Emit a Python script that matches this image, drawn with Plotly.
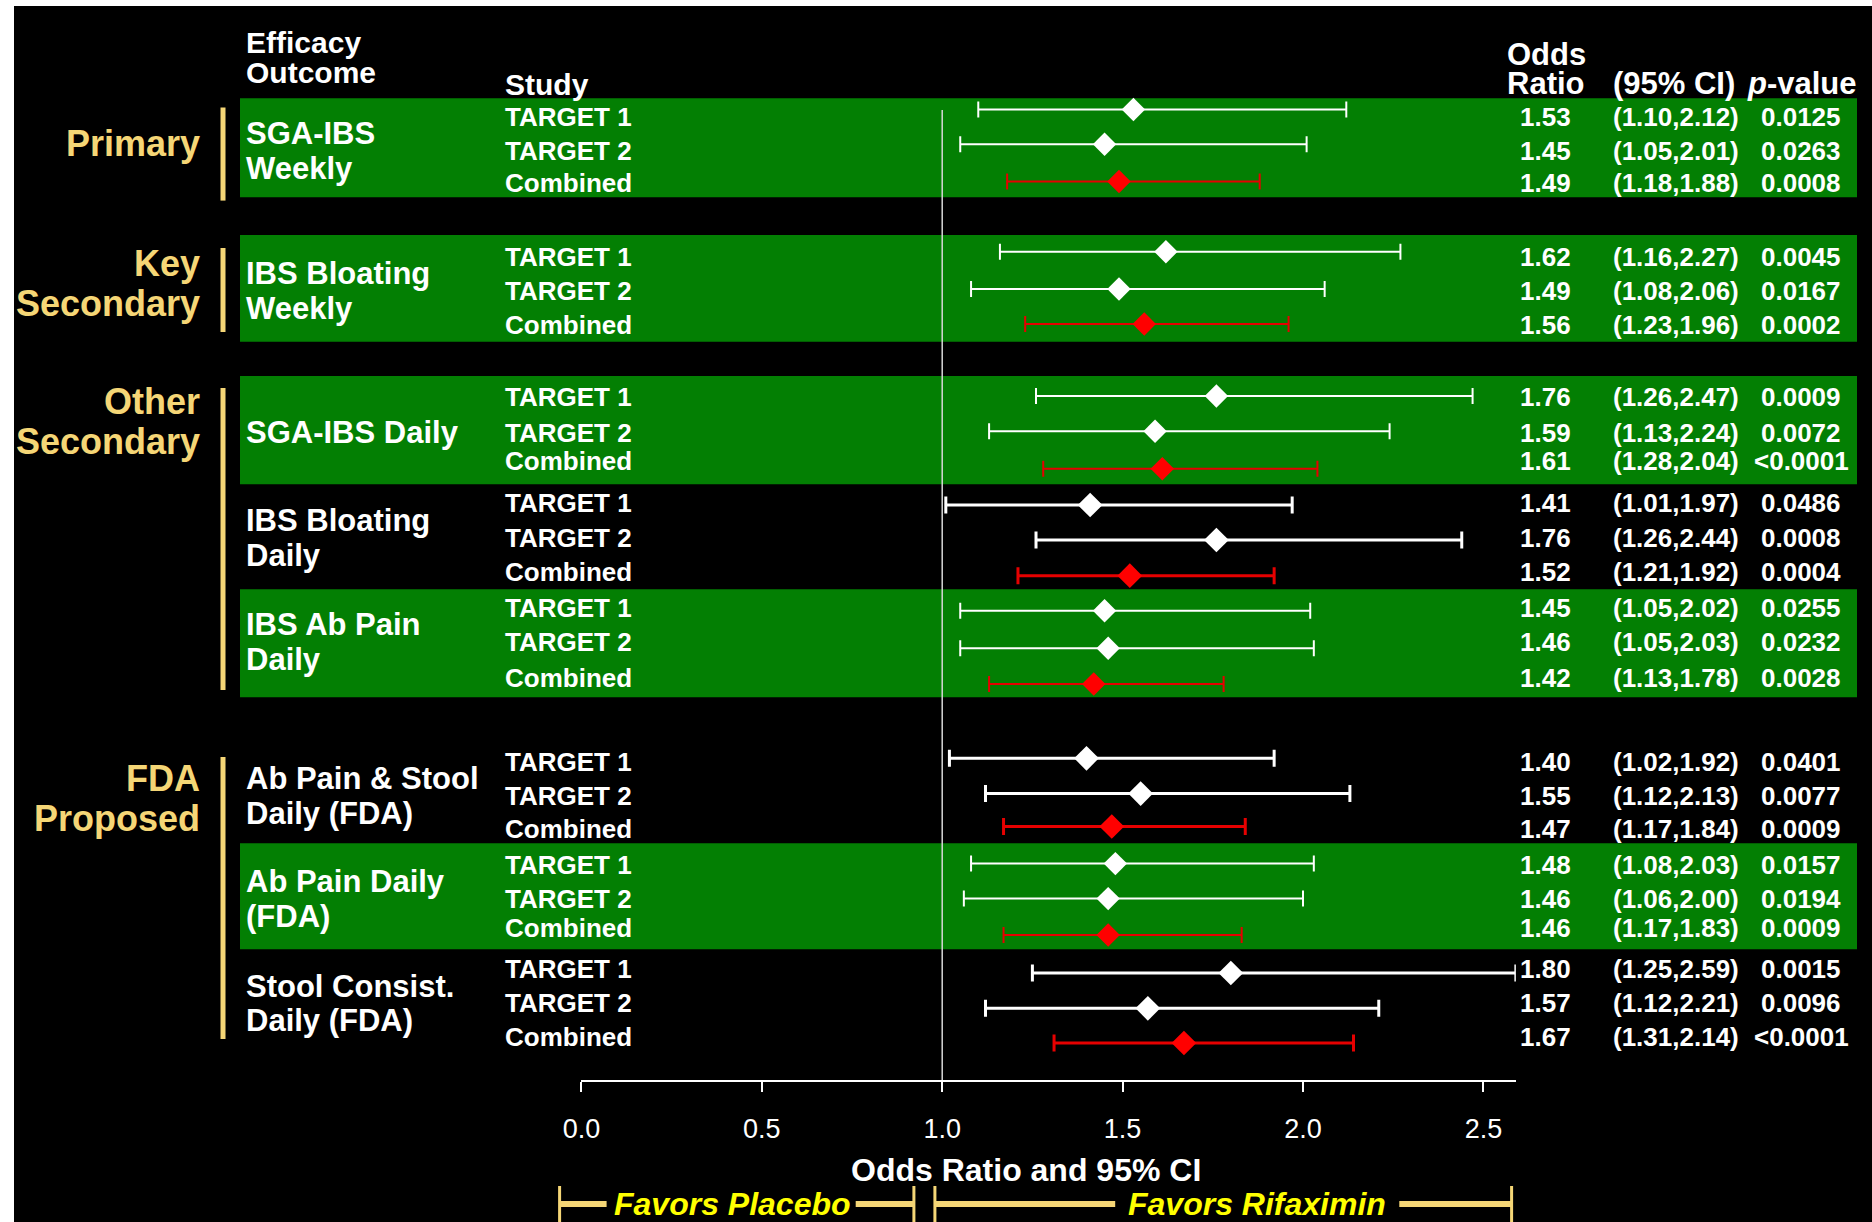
import plotly.graph_objects as go

W, H = 1872, 1222
FONT = "Liberation Sans, Arial, sans-serif"

# ---------------- data ----------------
categories = ["Primary", "Key|Secondary", "Other|Secondary", "FDA|Proposed"]
category_groups = [[0], [1], [2, 3, 4], [5, 6, 7]]

outcomes = [
    "SGA-IBS|Weekly",
    "IBS Bloating|Weekly",
    "SGA-IBS Daily",
    "IBS Bloating|Daily",
    "IBS Ab Pain|Daily",
    "Ab Pain & Stool|Daily (FDA)",
    "Ab Pain Daily|(FDA)",
    "Stool Consist.|Daily (FDA)",
]
studies = ["TARGET 1", "TARGET 2", "Combined"]

odds_ratio = [
    [1.53, 1.45, 1.49],
    [1.62, 1.49, 1.56],
    [1.76, 1.59, 1.61],
    [1.41, 1.76, 1.52],
    [1.45, 1.46, 1.42],
    [1.40, 1.55, 1.47],
    [1.48, 1.46, 1.46],
    [1.80, 1.57, 1.67],
]
ci_lower = [
    [1.10, 1.05, 1.18],
    [1.16, 1.08, 1.23],
    [1.26, 1.13, 1.28],
    [1.01, 1.26, 1.21],
    [1.05, 1.05, 1.13],
    [1.02, 1.12, 1.17],
    [1.08, 1.06, 1.17],
    [1.25, 1.12, 1.31],
]
ci_upper = [
    [2.12, 2.01, 1.88],
    [2.27, 2.06, 1.96],
    [2.47, 2.24, 2.04],
    [1.97, 2.44, 1.92],
    [2.02, 2.03, 1.78],
    [1.92, 2.13, 1.84],
    [2.03, 2.00, 1.83],
    [2.59, 2.21, 2.14],
]
p_values = [
    ["0.0125", "0.0263", "0.0008"],
    ["0.0045", "0.0167", "0.0002"],
    ["0.0009", "0.0072", "<0.0001"],
    ["0.0486", "0.0008", "0.0004"],
    ["0.0255", "0.0232", "0.0028"],
    ["0.0401", "0.0077", "0.0009"],
    ["0.0157", "0.0194", "0.0009"],
    ["0.0015", "0.0096", "<0.0001"],
]
axis_ticks = [0.0, 0.5, 1.0, 1.5, 2.0, 2.5]
reference_or = 1.0

# ---------------- layout (pixel positions) ----------------
# text baselines of each row
row_y = [
    [116.7, 151.0, 183.3],
    [256.7, 291.0, 325.0],
    [397.3, 432.7, 461.0],
    [502.7, 537.7, 572.3],
    [607.7, 641.7, 677.7],
    [761.7, 796.0, 829.3],
    [865.0, 899.0, 928.3],
    [969.3, 1003.3, 1036.7],
]
# vertical placement of each row's diamond / interval
mark_y = [
    [109.5, 144.3, 181.5],
    [251.7, 289.0, 324.0],
    [396.0, 431.3, 468.7],
    [505.0, 540.0, 575.7],
    [610.7, 648.3, 684.0],
    [758.3, 793.6, 826.5],
    [863.6, 898.6, 935.0],
    [973.0, 1008.3, 1043.0],
]
green_band = [(98.3, 197.3), (235.0, 341.7), (376.0, 484.3), None,
              (589.3, 697.3), None, (843.3, 949.3), None]
band_x = (240, 1857)
cat_bar = [(107.5, 200.6), (248, 332), (388, 690), (757, 1039)]
cat_label_y = [143.5, 283.5, 421.0, 798.0]

X0_PX, X_UNIT_PX = 581.4, 360.8      # pixel of OR=0 and pixels per OR unit
AXIS_Y = 1081

GREEN = "#037f03"
GOLD = "#f5d676"
YELLOW = "#ffff00"
RED = "#ff0000"
RED_LINE = "#e60000"

x_max = max(max(u) for u in ci_upper)
fig = go.Figure()

# background: black slide with white margin at left/top
fig.add_shape(type="rect", xref="paper", yref="y", x0=0, x1=14 / W, y0=0, y1=H,
              fillcolor="white", line_width=0, layer="below")
fig.add_shape(type="rect", xref="paper", yref="y", x0=0, x1=1, y0=0, y1=6,
              fillcolor="white", line_width=0, layer="below")

# green highlight bands
for band in green_band:
    if band is None:
        continue
    fig.add_shape(type="rect", xref="paper", yref="y",
                  x0=band_x[0] / W, x1=band_x[1] / W, y0=band[0], y1=band[1],
                  fillcolor=GREEN, line_width=0, layer="below")

# reference line at OR = 1
fig.add_shape(type="line", xref="x", yref="y", x0=reference_or, x1=reference_or,
              y0=110, y1=AXIS_Y + 10, line=dict(color="#d8d8d8", width=1.5),
              layer="below")

# forest-plot marks, one pair of traces per outcome
for g in range(len(outcomes)):
    on_green = green_band[g] is not None
    lw = 2 if on_green else 3
    msize = 18 if on_green else 19
    cap = 8 if on_green else 8.5
    for k, color, lcolor in [([0, 1], "white", "white"), ([2], RED, RED_LINE)]:
        xs = [odds_ratio[g][i] for i in k]
        ys = [mark_y[g][i] for i in k]
        plus = [round(ci_upper[g][i] - odds_ratio[g][i], 3) for i in k]
        minus = [round(odds_ratio[g][i] - ci_lower[g][i], 3) for i in k]
        fig.add_trace(go.Scatter(
            x=xs, y=ys, mode="markers", showlegend=False, cliponaxis=False,
            marker=dict(symbol="diamond", size=msize, color=color, line_width=0),
            error_x=dict(type="data", symmetric=False, array=plus, arrayminus=minus,
                         color=lcolor, thickness=lw, width=cap),
            hovertemplate="%{x:.2f}<extra></extra>",
        ))


def text(xp, yp, s, size, color="white", anchor="left", weight="bold", italic=False):
    fig.add_annotation(
        x=xp / W, xref="paper", y=yp, yref="y", text=s, showarrow=False,
        xanchor=anchor, yanchor="middle", borderpad=0,
        font=dict(family=FONT, size=size, color=color, weight=weight,
                  style="italic" if italic else "normal"),
    )


# column headers
text(244.8, 42.5, "Efficacy", 30)
text(244.8, 72.5, "Outcome", 30)
text(504.0, 84.0, "Study", 30)
text(1506.0, 54.0, "Odds", 31)
text(1506.0, 83.5, "Ratio", 31)
text(1612.0, 83.5, "(95% CI)", 31)
text(1746.0, 83.5, "<i>p</i>-value", 31)

# category labels with gold side bars
for c, name in enumerate(categories):
    lines = name.split("|")
    n = len(lines)
    for j, ln in enumerate(lines):
        text(201.0, cat_label_y[c] + (j - (n - 1) / 2) * 40, ln, 36, color=GOLD, anchor="right")
    fig.add_shape(type="line", xref="paper", yref="y", x0=223 / W, x1=223 / W,
                  y0=cat_bar[c][0], y1=cat_bar[c][1], line=dict(color=GOLD, width=5))

# outcome labels and row text
for g, name in enumerate(outcomes):
    lines = name.split("|")
    n = len(lines)
    yc = row_y[g][1]
    for j, ln in enumerate(lines):
        text(244.8, yc + (j - (n - 1) / 2) * 34.6, ln, 31)
    for i, st in enumerate(studies):
        y = row_y[g][i]
        text(504.0, y, st, 26)
        text(1571.5, y, f"{odds_ratio[g][i]:.2f}", 26, anchor="right")
        text(1611.5, y, f"({ci_lower[g][i]:.2f},{ci_upper[g][i]:.2f})", 26)
        text(1801.0, y, p_values[g][i], 26, anchor="center")

# axis title
text(1026.0, 1170.0, "Odds Ratio and 95% CI", 32, anchor="center")

# favours brackets: outer ends, bar pieces either side of the label, label centre
brackets = [
    ((559.6, 913.9), [(559.6, 606.6), (855.7, 913.9)], 732.0, "Favors Placebo"),
    ((934.9, 1511.6), [(934.9, 1115.2), (1399.3, 1511.6)], 1256.6, "Favors Rifaximin"),
]
for ends, pieces, tx, label in brackets:
    for px0, px1 in pieces:
        fig.add_shape(type="line", xref="paper", yref="y", x0=px0 / W, x1=px1 / W,
                      y0=1204, y1=1204, line=dict(color=GOLD, width=6))
    for bx in ends:
        fig.add_shape(type="line", xref="paper", yref="y", x0=bx / W, x1=bx / W,
                      y0=1186, y1=1222, line=dict(color=GOLD, width=3))
    text(tx, 1204.0, label, 32, color=YELLOW, anchor="center", italic=True)

fig.update_layout(
    width=W, height=H,
    margin=dict(l=0, r=0, t=0, b=0, pad=0, autoexpand=False),
    paper_bgcolor="black", plot_bgcolor="rgba(0,0,0,0)",
    xaxis=dict(
        domain=[X0_PX / W, (X0_PX + x_max * X_UNIT_PX) / W],
        range=[0, x_max], anchor="free", position=1 - AXIS_Y / H,
        automargin=False,
        showgrid=False, zeroline=False,
        showline=True, linecolor="white", linewidth=2,
        ticks="outside", ticklen=10, tickwidth=1.5, tickcolor="white",
        tickvals=axis_ticks, ticktext=[f"{t:.1f}" for t in axis_ticks],
        tickfont=dict(family=FONT, size=27, color="white"),
        ticklabelstandoff=14,
        fixedrange=True,
    ),
    yaxis=dict(domain=[0, 1], range=[H, 0], visible=False, automargin=False,
               fixedrange=True),
    showlegend=False,
)

fig.write_html("out.html")
